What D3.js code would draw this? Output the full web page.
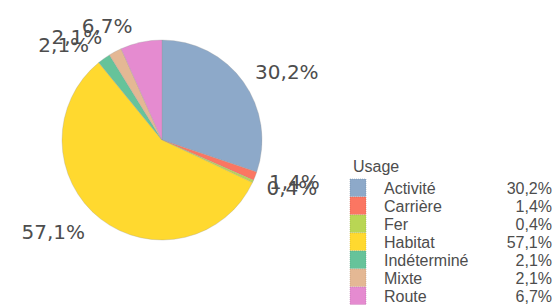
<!DOCTYPE html>
<html>
<head>
<meta charset="utf-8">
<script src="https://cdn.jsdelivr.net/npm/d3@7"></script>
<style>
    body { margin: 0; background: #fff; }
    svg { display: block; }
</style>
</head>
<body>
<div id="chart"></div>
<script>
// data
let categories = ['Activité', 'Carrière', 'Fer', 'Habitat', 'Indéterminé', 'Mixte', 'Route'],
    values = [30.2, 1.4, 0.4, 57.1, 2.1, 2.1, 6.7],
    labels = ['30,2%', '1,4%', '0,4%', '57,1%', '2,1%', '2,1%', '6,7%'],
    colors = ['#8da9c9', '#fb7662', '#b9d654', '#ffd92f', '#66c39a', '#e4b894', '#e58bd0'];

let width = 554,
    height = 307,
    cx = 162, cy = 140,
    radius = 100,
    labelRadius = 117;

let svg = d3.select('#chart')
    .append('svg')
    .attr('width', width)
    .attr('height', height);

let data = categories.map((c, i) => ({name: c, value: values[i], label: labels[i], color: colors[i]}));

let pie = d3.pie().sort(null).value(d => d.value);
let arc = d3.arc().innerRadius(0).outerRadius(radius);
let labelArc = d3.arc().innerRadius(labelRadius).outerRadius(labelRadius);

let g = svg.append('g')
    .attr('transform', 'translate(' + cx + ',' + cy + ')');

let arcs = pie(data);

g.selectAll('.slice')
    .data(arcs)
    .enter()
    .append('path')
    .attr('class', 'slice')
    .attr('d', arc)
    .attr('fill', d => d.data.color)
    .attr('stroke', '#9a9a9a')
    .attr('stroke-width', 0.3);

let isRight = d => (d.startAngle + d.endAngle) / 2 < Math.PI;

g.selectAll('.lbl')
    .data(arcs)
    .enter()
    .append('text')
    .attr('class', 'lbl')
    .attr('transform', d => {
        let c = labelArc.centroid(d);
        // a bit of extra room on the left-hand labels
        return 'translate(' + (c[0] + (isRight(d) ? -2 : -5)) + ',' + c[1] + ')';
    })
    .attr('text-anchor', d => isRight(d) ? 'start' : 'end')
    .attr('dy', '0.35em')
    .style('font-family', 'DejaVu Sans, Verdana, sans-serif')
    .style('font-size', '20px')
    .style('fill', '#4d4d4d')
    .text(d => d.data.label);

// legend
let legend = svg.append('g')
    .attr('transform', 'translate(350,0)');

legend.append('text')
    .attr('x', 3)
    .attr('y', 172)
    .style('font-family', 'Liberation Sans, Arial, sans-serif')
    .style('font-size', '16px')
    .style('fill', '#4d4d4d')
    .text('Usage');

let y = d3.scaleBand().domain(categories).range([179, 305]);

let rows = legend.selectAll('.row')
    .data(data)
    .enter()
    .append('g')
    .attr('class', 'row')
    .attr('transform', d => 'translate(0,' + y(d.name) + ')');

rows.append('rect')
    .attr('width', 16)
    .attr('height', y.bandwidth() - 0.5)
    .attr('fill', d => d.color)
    .attr('stroke', d => d3.color(d.color).darker(0.6))
    .attr('stroke-width', 0.5)
    .attr('stroke-dasharray', '1,1');

rows.append('text')
    .attr('x', 34)
    .attr('y', y.bandwidth() / 2)
    .attr('dy', '0.36em')
    .style('font-family', 'Liberation Sans, Arial, sans-serif')
    .style('font-size', '16px')
    .style('fill', '#4d4d4d')
    .text(d => d.name);

rows.append('text')
    .attr('x', 202)
    .attr('y', y.bandwidth() / 2)
    .attr('dy', '0.36em')
    .attr('text-anchor', 'end')
    .style('font-family', 'Liberation Sans, Arial, sans-serif')
    .style('font-size', '16px')
    .style('fill', '#4d4d4d')
    .text(d => d.label);
</script>
</body>
</html>
